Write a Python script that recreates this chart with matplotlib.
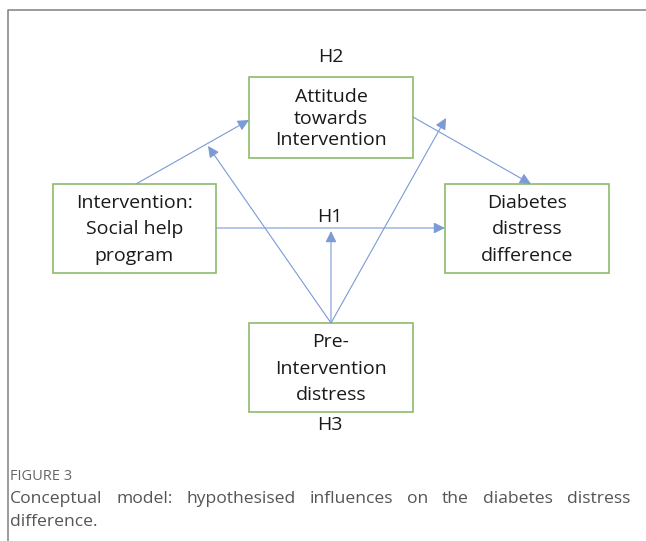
import matplotlib.pyplot as plt
from matplotlib.patches import Rectangle, FancyArrowPatch

# Diagram content
node_labels = [
    "Attitude\ntowards\nIntervention",
    "Intervention:\nSocial help\nprogram",
    "Diabetes\ndistress\ndifference",
    "Pre-\nIntervention\ndistress",
]
hyp_labels = ["H2", "H1", "H3"]
caption_head = "FIGURE 3"
caption_lines = [
    "Conceptual model: hypothesised influences on the diabetes distress",
    "difference.",
]

# layout in pixel coordinates (x0, y0, x1, y1), line spacing per box
boxes = [(249, 77, 413, 158), (53, 184, 216, 273), (445, 184, 609, 273), (249, 323, 413, 412)]
spacing = [1.22, 1.62, 1.62, 1.58]
hyp_pos = [(331, 57), (330, 217), (330, 425)]
arrows = [
    ((136, 184), (249, 120)),
    ((216, 228), (445, 228)),
    ((413, 117), (531, 184)),
    ((331, 323), (331, 231)),
    ((331, 323), (208, 146)),
    ((331, 323), (446, 118)),
]

W, H = 646, 541
fig = plt.figure(figsize=(W / 100, H / 100), dpi=100)
ax = fig.add_axes([0, 0, 1, 1])
ax.set_xlim(0, W)
ax.set_ylim(H, 0)
ax.axis("off")

# frame
ax.plot([8, 8, W], [H, 10, 10], color="#8a8a8a", lw=1.2, solid_capstyle="butt")

box_font = ["Open Sans", "DejaVu Sans"]
for (x0, y0, x1, y1), lab, ls in zip(boxes, node_labels, spacing):
    ax.add_patch(Rectangle((x0, y0), x1 - x0, y1 - y0, fill=False,
                           edgecolor="#8dbb6c", lw=1.2))
    ax.text((x0 + x1) / 2, (y0 + y1) / 2 + 1, lab, ha="center", va="center",
            fontsize=14, family=box_font, color="#1a1a1a", linespacing=ls)

for (x, y), lab in zip(hyp_pos, hyp_labels):
    ax.text(x, y, lab, ha="center", va="center", fontsize=14,
            family=box_font, color="#1a1a1a")

for start, end in arrows:
    ax.add_patch(FancyArrowPatch(start, end, arrowstyle="-|>,head_length=4.5,head_width=2.2",
                                 color="#7b9ad6", lw=0.8, shrinkA=0, shrinkB=0,
                                 mutation_scale=1.5))

# caption
cap_font = ["Open Sans", "DejaVu Sans"]
ax.text(10, 476, caption_head, ha="left", va="center", fontsize=10.5,
        family=cap_font, color="#666666")

fig.canvas.draw()
renderer = fig.canvas.get_renderer()
# justify first line between x=10 and x=630
words = caption_lines[0].split(" ")
items = []
total = 0
for w in words:
    t = ax.text(0, 0, w, fontsize=12.6, family=cap_font, color="#555555")
    bb = t.get_window_extent(renderer)
    items.append((t, bb.width))
    total += bb.width
gap = (620 - total) / (len(words) - 1)
x = 10
for t, wd in items:
    t.set_position((x, 499))
    t.set_va("center")
    x += wd + gap
ax.text(10, 522, caption_lines[1], ha="left", va="center", fontsize=12.6,
        family=cap_font, color="#555555")

fig.savefig("out.png", dpi=100)
